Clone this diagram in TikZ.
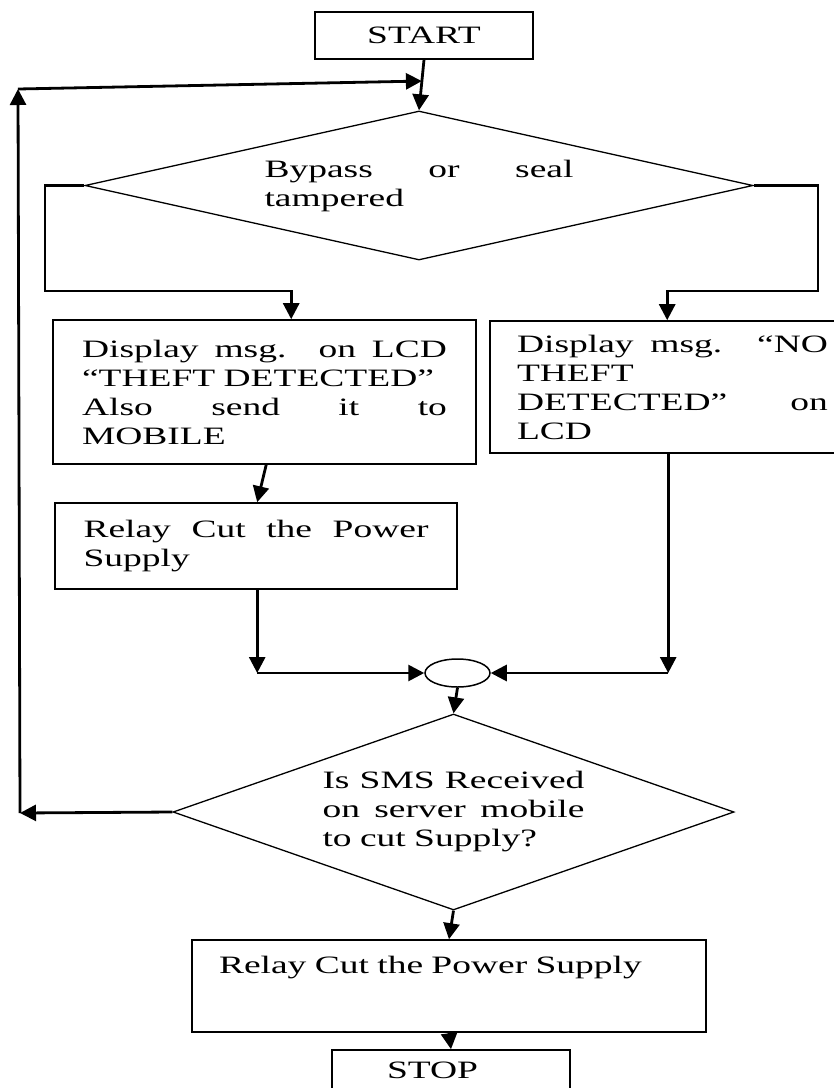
\documentclass[tikz,border=0pt]{standalone}
\usepackage{fontspec}
\setmainfont{Liberation Serif}[FakeStretch=1.5]
\usetikzlibrary{shapes.geometric,arrows.meta,calc}
\setlength{\parindent}{0pt}
\newcommand{\jline}[2]{\makebox[#1][s]{\spaceskip=0pt\xspaceskip=0pt\relax #2}}
\begin{document}
\begin{tikzpicture}[x=1pt,y=-1pt,
  every node/.style={font=\fontsize{25}{29}\selectfont},
  box/.style={draw,line width=1.6pt,rectangle,inner sep=0pt,align=left},
  dia/.style={draw,line width=1.3pt,diamond,inner sep=0pt,align=left},
  conn/.style={line width=2.8pt,-{Triangle[length=16pt,width=16pt]}}]
\useasboundingbox (0,0) rectangle (834,1088);

% nodes
\node[box,minimum width=218pt,minimum height=47pt] (start) at (424,35.5) {START};
\node[dia,aspect=4.48,minimum width=668pt,minimum height=149pt,text width=309pt] (d1) at (419,185.5)
  {\jline{309pt}{Bypass or seal}\\tampered};
\node[box,minimum width=423pt,minimum height=144pt,text width=365pt] (lbox) at (264.5,392)
  {\jline{365pt}{Display msg. on LCD}\\“THEFT DETECTED”\\\jline{365pt}{Also send it to}\\MOBILE};
\node[box,minimum width=365pt,minimum height=132pt,text width=311pt] (rbox) at (672.5,387)
  {\jline{311pt}{Display msg. “NO}\\THEFT\\\jline{311pt}{DETECTED” on}\\LCD};
\node[box,minimum width=402pt,minimum height=86pt,text width=345pt] (relay1) at (256,546)
  {\jline{345pt}{Relay Cut the Power}\\Supply};
\node[draw,ellipse,line width=1.5pt,minimum width=65pt,minimum height=28pt,inner sep=0pt] (circ) at (457.5,673) {};
\node[dia,aspect=2.86,minimum width=561pt,minimum height=196pt,text width=262pt] (d2) at (453.5,812)
  {\jline{262pt}{Is SMS Received}\\\jline{262pt}{on server mobile}\\to cut Supply?};
\node[box,minimum width=514pt,text width=460pt,text height=33pt,text depth=59pt] (relay2) at (449,986)
  {Relay Cut the Power Supply};
\node[box,minimum width=238pt,minimum height=40pt,text width=128pt] (stop) at (451,1070)
  {STOP};

% helper coordinates
\coordinate (m) at ($(start.south)!0.42!(d1.north)$);
\coordinate (l1) at (20,813);
\coordinate (l2) at (18,89);
\coordinate (b1) at (45,291);
\coordinate (b2) at (818,291);
\coordinate (lt) at ($(lbox.north west)+(239,0)$);
\coordinate (rt) at ($(rbox.north west)+(178,0)$);
\coordinate (r1) at ($(relay1.south west)+(203,0)$);
\coordinate (j1) at (r1 |- circ.west);
\coordinate (r2) at ($(rbox.south west)+(179,0)$);
\coordinate (j2) at (r2 |- circ.east);

% connectors
\draw[conn] (start.south) -- (d1.north);
\draw[conn] (d2.west) -- (l1);
\draw[conn] (l1) -- (l2);
\draw[conn] (l2) -- (m);
\draw[conn] (d1.west) -| (b1) -| (lt);
\draw[conn] (d1.east) -| (b2) -| (rt);
\draw[conn] ($(lbox.south west)+(214,0)$) -- ($(relay1.north west)+(203,0)$);
\draw[conn] (r1) -- (j1);
\draw[conn] (j1) -- (circ.west);
\draw[conn] (r2) -- (j2);
\draw[conn] (j2) -- (circ.east);
\draw[conn] (circ.south) -- (d2.north);
\draw[conn] (d2.south) -- (relay2.north);
\draw[conn] (relay2.south) -- (stop.north);
\end{tikzpicture}
\end{document}
